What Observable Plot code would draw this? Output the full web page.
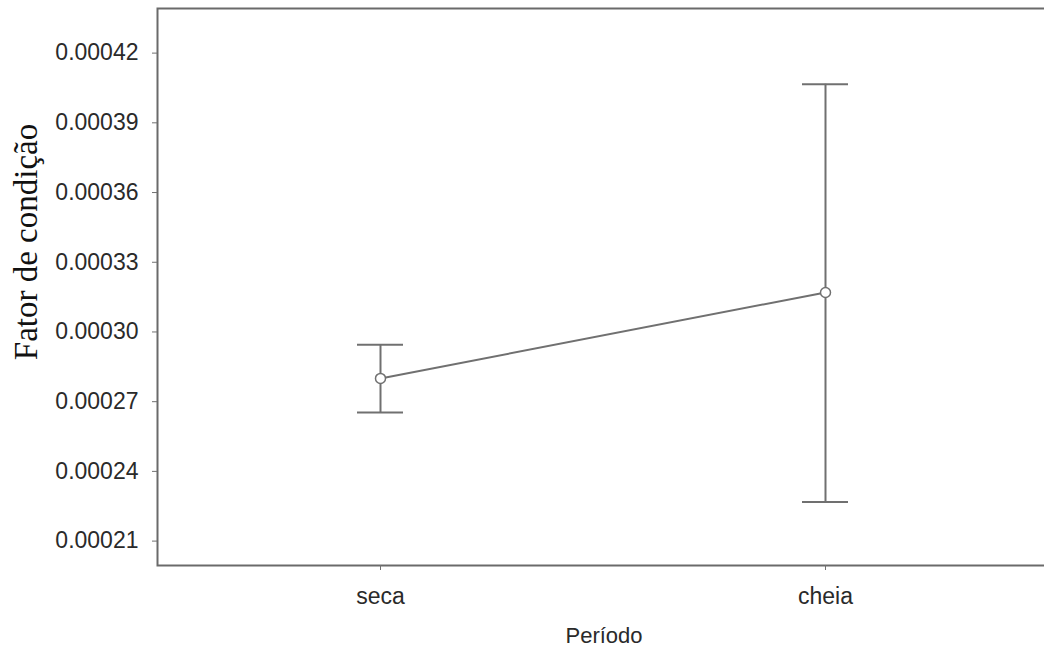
<!DOCTYPE html>
<html>
<head>
<meta charset="utf-8">
<script src="https://cdn.jsdelivr.net/npm/d3@7"></script>
<script src="https://cdn.jsdelivr.net/npm/@observablehq/plot@0.6"></script>
<style>
  html, body { margin: 0; padding: 0; background: #fff; overflow: hidden; }
</style>
</head>
<body>
<div id="chart"></div>
<script>
const periods = ["seca", "cheia"];
const means = [0.000280, 0.000317];
const lower = [0.0002653, 0.0002268];
const upper = [0.0002945, 0.0004066];
const yTicks = [0.00021, 0.00024, 0.00027, 0.00030, 0.00033, 0.00036, 0.00039, 0.00042];
const yDomain = [0.0001995, 0.0004392];
const xTitle = "Período";
const yTitle = "Fator de condição";

const data = periods.map((p, i) => ({periodo: p, mean: means[i], lower: lower[i], upper: upper[i]}));

const lineColor = "#707070";
const textColor = "#2a2a2a";

const chart = Plot.plot({
  width: 1044,
  height: 651,
  marginTop: 8,
  marginBottom: 86,
  marginLeft: 157,
  marginRight: -4,
  style: {fontFamily: "'Liberation Sans', Arial, sans-serif", fontSize: "23px", color: textColor, background: "#fff"},
  x: {type: "band", domain: periods, paddingInner: 0.8966, paddingOuter: 0.4494, align: 0.5},
  y: {domain: yDomain},
  marks: [
    Plot.frame({stroke: "#6a6a6a", strokeWidth: 2}),
    Plot.axisY({ticks: yTicks, tickFormat: d3.format(".5f"), tickSize: 5, tickPadding: 14, label: null, stroke: lineColor, fill: textColor}),
    Plot.axisX({tickSize: 5, tickPadding: 17, label: null, stroke: lineColor, fill: textColor}),
    Plot.ruleX(data, {x: "periodo", y1: "lower", y2: "upper", stroke: lineColor, strokeWidth: 2}),
    Plot.tickY(data, {x: "periodo", y: "upper", stroke: lineColor, strokeWidth: 2}),
    Plot.tickY(data, {x: "periodo", y: "lower", stroke: lineColor, strokeWidth: 2}),
    Plot.line(data, {x: "periodo", y: "mean", stroke: lineColor, strokeWidth: 2}),
    Plot.dot(data, {x: "periodo", y: "mean", r: 5, fill: "white", stroke: lineColor, strokeWidth: 1.5}),
    Plot.text([xTitle], {frameAnchor: "bottom", textAnchor: "middle", dx: 1, dy: 77, lineAnchor: "bottom", fill: textColor, fontSize: 22}),
    Plot.text([yTitle], {frameAnchor: "left", textAnchor: "middle", rotate: -90, dx: -121, dy: -45, lineAnchor: "bottom", fill: "#111", fontSize: 33, fontFamily: "'Liberation Serif', 'Times New Roman', serif"})
  ]
});
document.getElementById("chart").appendChild(chart);
</script>
</body>
</html>
